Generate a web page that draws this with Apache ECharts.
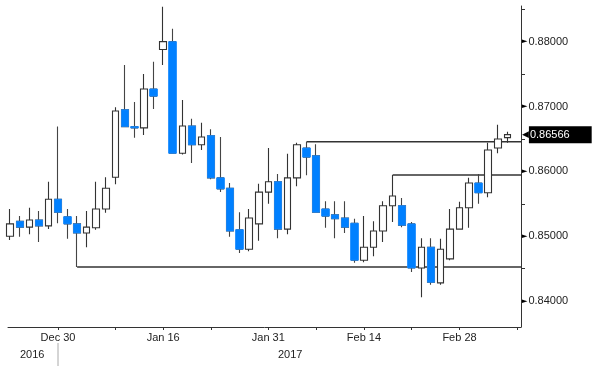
<!DOCTYPE html>
<html><head><meta charset="utf-8">
<script src="https://cdn.jsdelivr.net/npm/echarts@6/dist/echarts.min.js"></script>
<style>html,body{margin:0;padding:0;background:#fff}#c{width:600px;height:372px}</style>
</head><body><div id="c"></div>
<script>
const dates = ['2016-12-23','2016-12-26','2016-12-27','2016-12-28','2016-12-29','2016-12-30',
'2017-01-02','2017-01-03','2017-01-04','2017-01-05','2017-01-06','2017-01-09','2017-01-10','2017-01-11','2017-01-12','2017-01-13',
'2017-01-16','2017-01-17','2017-01-18','2017-01-19','2017-01-20','2017-01-23','2017-01-24','2017-01-25','2017-01-26','2017-01-27',
'2017-01-30','2017-01-31','2017-02-01','2017-02-02','2017-02-03','2017-02-06','2017-02-07','2017-02-08','2017-02-09','2017-02-10',
'2017-02-13','2017-02-14','2017-02-15','2017-02-16','2017-02-17','2017-02-20','2017-02-21','2017-02-22','2017-02-23','2017-02-24',
'2017-02-27','2017-02-28','2017-03-01','2017-03-02','2017-03-03','2017-03-06','2017-03-07'];
const opens = [0.8500,0.8523,0.8514,0.8525,0.8516,0.8557,0.8530,0.8519,0.8505,0.8513,0.8542,0.8591,0.8695,0.8669,0.8667,0.8727,0.8788,0.8800,0.8628,0.8670,0.8641,0.8655,0.8590,0.8574,0.8510,0.8480,0.8519,0.8568,0.8584,0.8511,0.8590,0.8636,0.8624,0.8542,0.8533,0.8528,0.8520,0.8463,0.8483,0.8508,0.8547,0.8547,0.8519,0.8451,0.8483,0.8428,0.8465,0.8511,0.8544,0.8582,0.8567,0.8636,0.8652];
const closes = [0.8519,0.8514,0.8525,0.8516,0.8557,0.8537,0.8519,0.8505,0.8514,0.8542,0.8574,0.8693,0.8669,0.8667,0.8727,0.8716,0.8800,0.8628,0.8670,0.8641,0.8653,0.8590,0.8573,0.8508,0.8480,0.8528,0.8568,0.8584,0.8511,0.8590,0.8641,0.8622,0.8537,0.8531,0.8527,0.8514,0.8463,0.8483,0.8508,0.8547,0.8562,0.8517,0.8451,0.8483,0.8429,0.8480,0.8511,0.8544,0.8582,0.8567,0.8633,0.8650,0.86566];
const lows = [0.8494,0.8499,0.8503,0.8491,0.8511,0.8520,0.8496,0.84525,0.8483,0.8510,0.8536,0.8580,0.8668,0.8652,0.8656,0.8696,0.8764,0.8627,0.8626,0.8613,0.8633,0.8588,0.8568,0.8499,0.8474,0.8477,0.8493,0.8550,0.8497,0.8503,0.8577,0.8594,0.8536,0.8513,0.8497,0.8505,0.8459,0.8460,0.8469,0.8491,0.8522,0.8514,0.8445,0.8406,0.8425,0.8425,0.8463,0.8510,0.8513,0.8550,0.8560,0.8628,0.8644];
const highs = [0.8542,0.8531,0.8544,0.8539,0.8584,0.8669,0.8542,0.8531,0.8539,0.8584,0.8591,0.8699,0.8764,0.8707,0.8750,0.8769,0.8854,0.8820,0.8710,0.8681,0.8675,0.8665,0.8653,0.8582,0.8537,0.8542,0.8581,0.8636,0.8596,0.8627,0.8644,0.86457,0.8642,0.8554,0.8554,0.8554,0.8527,0.8531,0.8523,0.8554,0.85944,0.8559,0.8522,0.8497,0.8497,0.8496,0.8542,0.8553,0.8590,0.8596,0.8644,0.8672,0.8661];

const levelFrom = ['2017-01-03','2017-02-06','2017-02-17'];
const levelValues = [0.84525,0.86457,0.85944];

const labelDates = ['2016-12-30','2017-01-16','2017-01-31','2017-02-14','2017-02-28'];
const labelTexts = ['Dec 30','Jan 16','Jan 31','Feb 14','Feb 28'];
const tickDates = ['2016-12-30','2017-01-09','2017-01-16','2017-01-23','2017-01-31','2017-02-07','2017-02-14','2017-02-21','2017-02-28','2017-03-08'];
const yLabelValues = [0.84,0.85,0.86,0.87,0.88];
const yMinorTicks = [0.845,0.855,0.865,0.875,0.885];
const years = ['2016','2017'];

const idx = d => { const i = dates.indexOf(d); return i < 0 ? dates.length : i; };
const X_MIN = -0.23, X_MAX = 53.43;
const labelIdx = labelDates.map(idx);
const tickIdx = tickDates.map(idx);
const last = closes.length - 1;

const ohlc = dates.map((d,i)=>[i, opens[i], closes[i], lows[i], highs[i]]);
const downBodies = dates.map((d,i)=>[i, opens[i], closes[i], Math.min(opens[i],closes[i]), Math.max(opens[i],closes[i])])
  .filter((r,i)=>closes[i] < opens[i]);

const FONT = 'Liberation Sans';
const chart = echarts.init(document.getElementById('c'));
const levelSeries = levelValues.map((v,k)=>({
  type:'line', silent:true, symbol:'none', z:1,
  data:[[idx(levelFrom[k]), v],[X_MAX, v]],
  lineStyle:{color:'#333', width:1.3}
}));
chart.setOption({
  animation:false,
  grid:{left:8, right:79, top:6, bottom:45},
  xAxis:{type:'value', min:X_MIN, max:X_MAX,
    axisLine:{show:true, onZero:false, lineStyle:{color:'#333', width:1}},
    axisTick:{show:true, customValues:tickIdx, length:3, lineStyle:{color:'#333'}},
    axisLabel:{customValues:labelIdx, formatter:v=>labelTexts[labelIdx.indexOf(v)] || '', fontFamily:FONT, fontSize:11, color:'#222', margin:5},
    splitLine:{show:false}},
  yAxis:{type:'value', position:'right', min:0.836, max:0.8855, scale:true,
    axisLine:{show:true, onZero:false, lineStyle:{color:'#333', width:1}},
    axisTick:{show:true, customValues:yMinorTicks, length:4, lineStyle:{color:'#333'}},
    axisLabel:{customValues:yLabelValues, margin:1,
      formatter:v=>'{a|►}{b|'+v.toFixed(5)+'}',
      rich:{a:{fontFamily:'DejaVu Sans', fontSize:7, color:'#000'}, b:{fontFamily:FONT, fontSize:11, color:'#222', padding:[0,0,0,1]}}},
    splitLine:{show:false}},
  series:[
    ...levelSeries,
    {type:'candlestick', z:2, barWidth:7, data:ohlc, encode:{x:0, y:[1,2,3,4]},
      itemStyle:{color:'#ffffff', color0:'#0080ff', borderColor:'#333', borderColor0:'#444', borderWidth:1.1}},
    {type:'candlestick', z:3, barWidth:8, data:downBodies, encode:{x:0, y:[1,2,3,4]},
      itemStyle:{color:'#0080ff', color0:'#0080ff', borderColor:'#1a8cff', borderColor0:'#1a8cff', borderWidth:0.8}},
    {type:'line', silent:true, symbol:'none', z:5,
      data:[[last, closes[last]],[X_MAX, closes[last]]],
      lineStyle:{color:'rgba(0,0,0,0)', width:0},
      endLabel:{show:true, distance:1,
        formatter:()=>'{a|◀}{b|'+closes[last].toFixed(5)+'}',
        rich:{a:{fontFamily:'DejaVu Sans', fontSize:9, color:'#000'}, b:{fontFamily:FONT, fontSize:11, color:'#fff', backgroundColor:'#000', padding:[3,22,3,1]}}}}
  ],
  graphic:[
    {type:'text', left:20, top:349, style:{text:years[0], font:'11px "Liberation Sans"', fill:'#222'}},
    {type:'text', left:278, top:349, style:{text:years[1], font:'11px "Liberation Sans"', fill:'#222'}},
    {type:'line', shape:{x1:58, y1:343, x2:58, y2:366}, style:{stroke:'#aaa', lineWidth:1}}
  ]
});
</script></body></html>
